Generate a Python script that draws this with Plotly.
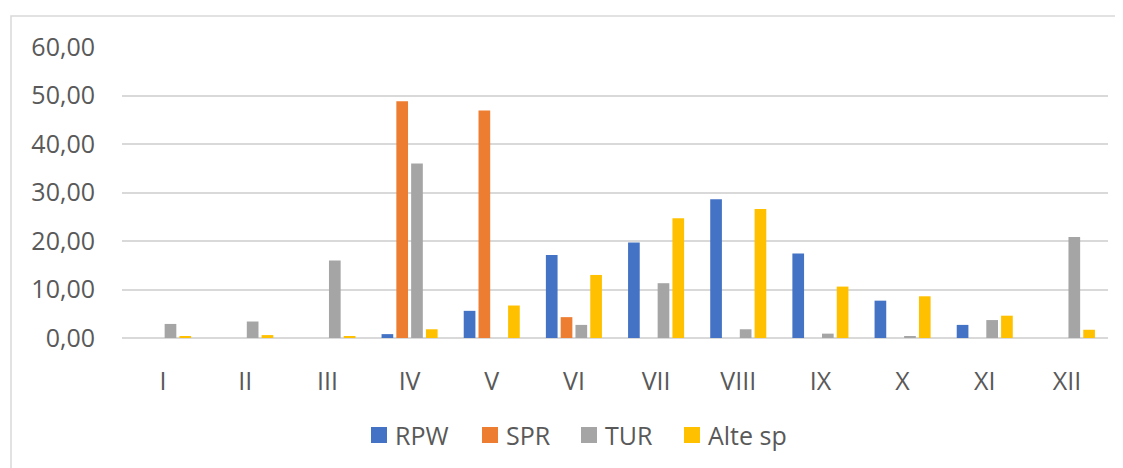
import plotly.graph_objects as go

# month labels and series values
months = ["I", "II", "III", "IV", "V", "VI", "VII", "VIII", "IX", "X", "XI", "XII"]
rpw = [0, 0, 0, 0.8, 5.6, 17.1, 19.7, 28.6, 17.4, 7.7, 2.7, 0]
spr = [0, 0, 0, 48.8, 46.9, 4.3, 0, 0, 0, 0, 0, 0]
tur = [2.9, 3.4, 16.0, 36.0, 0, 2.7, 11.3, 1.8, 0.9, 0.3, 3.7, 20.8]
alte = [0.4, 0.6, 0.4, 1.8, 6.7, 13.0, 24.7, 26.6, 10.6, 8.6, 4.6, 1.7]

series = [
    ("RPW", rpw, "#4472C4"),
    ("SPR", spr, "#ED7D31"),
    ("TUR", tur, "#A5A5A5"),
    ("Alte sp", alte, "#FFC000"),
]

TEXT = "#595959"
GRID = "#D9D9D9"
FONT = "Open Sans, sans-serif"

fig = go.Figure()
for name, vals, color in series:
    fig.add_trace(go.Bar(x=months, y=vals, name=name, marker_color=color,
                         marker_line_width=0, showlegend=False))

# the page body has an 8px margin, so work in figure coords = screen - 8
OFF = 8
W, H = 1123, 468
L, R, T, B = 122 - OFF, 23, 47 - OFF, 468 - (338 - OFF)
pw, ph = W - L - R, H - T - B

def px(x):
    return (x - OFF - L) / pw

def py(y):
    return (H - B - (y - OFF)) / ph

# outer chart frame (right/bottom edges run off the picture)
shapes = [dict(type="rect", xref="paper", yref="paper",
               x0=px(11), x1=px(1129), y0=py(480), y1=py(16),
               line=dict(color=GRID, width=1.5), fillcolor="rgba(0,0,0,0)",
               layer="below")]
annotations = []

# Excel-style legend drawn by hand: square swatch + label
legend_x = [371, 482, 581, 684]
for (name, vals, color), lx in zip(series, legend_x):
    shapes.append(dict(type="rect", xref="paper", yref="paper",
                       x0=px(lx), x1=px(lx + 16), y0=py(443), y1=py(427),
                       line=dict(width=0), fillcolor=color))
    annotations.append(dict(text=name, xref="paper", yref="paper",
                            x=px(lx + 22), y=py(435), xanchor="left",
                            yanchor="middle", showarrow=False,
                            font=dict(size=25, color=TEXT)))

fig.update_layout(
    width=W, height=H,
    margin=dict(l=L, r=R, t=T, b=B),
    paper_bgcolor="white", plot_bgcolor="white",
    barmode="group", bargap=0.28, bargroupgap=0.21,
    separators=", ",
    font=dict(family=FONT, color=TEXT, size=25),
    showlegend=False,
    xaxis=dict(showgrid=False, showline=False, ticks="", ticklabelstandoff=26,
               tickfont=dict(size=25, color=TEXT)),
    yaxis=dict(range=[0, 60], dtick=10, tickformat=".2f", showgrid=True,
               gridcolor=GRID, gridwidth=1.5, zeroline=True, zerolinecolor=GRID,
               zerolinewidth=1.5, showline=False, ticks="", ticklabelstandoff=26,
               tickfont=dict(size=25, color=TEXT)),
    shapes=shapes,
    annotations=annotations,
)

fig.write_html("out.html")
